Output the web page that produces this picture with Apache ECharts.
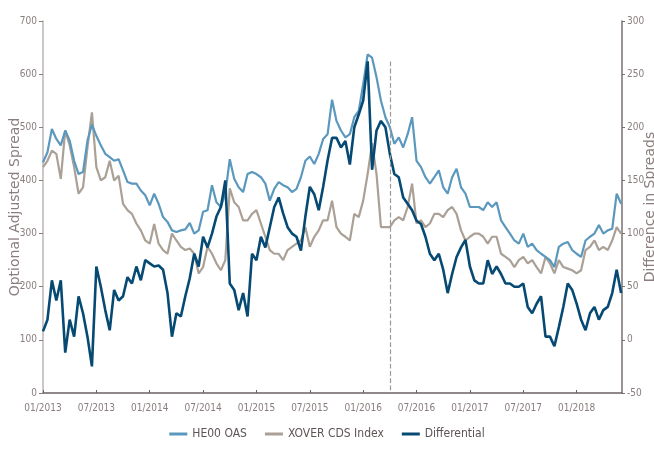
<!DOCTYPE html>
<html>
<head>
  <meta charset="UTF-8">
  <title>Spreads</title>
  <script src="https://cdn.jsdelivr.net/npm/echarts@6/dist/echarts.min.js"></script>
  <style>
    html, body { margin: 0; padding: 0; background: #fff; }
    #main { width: 654px; height: 450px; }
  </style>
</head>
<body>
<div id="main"></div>
<script>
  // x = months since 01/2013, one reading every half month
  var step = 0.5;
  var tickLabels = ['01/2013', '07/2013', '01/2014', '07/2014', '01/2015', '07/2015',
    '01/2016', '07/2016', '01/2017', '07/2017', '01/2018'];

  var he00 = [434, 453, 497, 478, 466, 494, 475, 437, 412, 416, 475, 505, 484, 466, 450, 444,
    437, 440, 419, 397, 394, 394, 381, 372, 353, 375, 356, 331, 322, 306, 303, 306,
    308, 320, 300, 306, 341, 344, 391, 359, 350, 375, 440, 403, 387, 378, 412, 416,
    412, 406, 394, 362, 384, 397, 391, 387, 378, 384, 406, 437, 445, 431, 450, 478,
    487, 552, 512, 494, 481, 487, 519, 531, 581, 637, 631, 594, 550, 519, 500, 469,
    481, 462, 487, 519, 437, 425, 406, 394, 406, 419, 387, 375, 406, 422, 387, 375,
    350, 350, 350, 344, 359, 350, 359, 325, 312, 300, 287, 281, 300, 275, 281, 269,
    262, 256, 250, 237, 275, 281, 284, 269, 262, 256, 287, 294, 300, 316, 300, 306,
    309, 375, 356];

  var xover = [425, 437, 456, 450, 403, 494, 466, 425, 375, 387, 462, 528, 425, 400, 406, 437,
    400, 409, 356, 344, 337, 319, 306, 287, 281, 318, 281, 269, 262, 300, 287, 275,
    269, 272, 262, 225, 237, 275, 262, 244, 231, 250, 385, 359, 350, 325, 325, 337,
    344, 319, 294, 269, 262, 262, 250, 269, 275, 281, 287, 312, 275, 294, 306, 325,
    325, 362, 312, 300, 294, 287, 337, 331, 362, 412, 470, 412, 312, 312, 312, 325,
    331, 325, 350, 394, 319, 325, 312, 319, 337, 337, 331, 344, 350, 337, 306, 287,
    294, 300, 300, 294, 281, 294, 294, 262, 256, 250, 237, 250, 256, 244, 250, 237,
    225, 256, 244, 225, 250, 237, 234, 231, 225, 231, 269, 275, 287, 269, 275, 269,
    287, 312, 300];

  var diff = [8, 19, 56, 37, 56, -12, 19, 3, 41, 25, 3, -25, 69, 50, 28, 9,
    47, 37, 41, 59, 53, 69, 56, 75, 72, 69, 70, 66, 44, 3, 25, 22,
    41, 58, 81, 69, 97, 87, 100, 116, 125, 150, 53, 47, 28, 44, 22, 81,
    75, 97, 87, 106, 125, 134, 119, 106, 100, 97, 84, 116, 144, 137, 122, 144,
    169, 190, 190, 181, 187, 165, 200, 212, 225, 262, 160, 197, 206, 200, 175, 156,
    153, 134, 128, 122, 112, 109, 97, 81, 75, 81, 66, 44, 62, 78, 87, 94,
    69, 56, 53, 53, 75, 62, 69, 62, 53, 53, 50, 50, 53, 31, 25, 34,
    41, 3, 3, -6, 12, 31, 53, 47, 34, 19, 9, 25, 31, 19, 28, 31,
    44, 66, 44];

  var marker = 39; // 04/2016

  function pairs(arr) {
    return arr.map(function (v, i) { return [i * step, v]; });
  }

  var narrow = "'Liberation Sans Narrow', 'DejaVu Sans Condensed', sans-serif";
  var labelColor = '#8a7d7d';

  var chart = echarts.init(document.getElementById('main'));
  chart.setOption({
    animation: false,
    grid: { left: 43, right: 32, top: 21, bottom: 57, containLabel: false, outerBoundsMode: 'none' },
    legend: {
      bottom: 5,
      left: 'center',
      icon: 'rect',
      itemWidth: 18,
      itemHeight: 3,
      itemGap: 18,
      textStyle: { color: '#5e5454', fontFamily: narrow, fontSize: 12 },
      data: ['HE00 OAS', 'XOVER CDS Index', 'Differential']
    },
    xAxis: {
      type: 'value',
      min: 0,
      max: 65.1,
      interval: 6,
      splitLine: { show: false },
      axisLine: { lineStyle: { color: '#6b6262', width: 1.5 } },
      axisTick: { inside: true, length: 3, lineStyle: { color: '#6b6262' } },
      axisLabel: {
        showMaxLabel: false,
        color: labelColor,
        fontFamily: narrow,
        fontSize: 10,
        margin: 10,
        formatter: function (v) { return tickLabels[Math.round(v / 6)] || ''; }
      }
    },
    yAxis: [{
      type: 'value',
      min: 0,
      max: 700,
      interval: 100,
      name: 'Optional Adjusted Spread',
      nameLocation: 'middle',
      nameMoveOverlap: false,
      nameGap: 21,
      nameTextStyle: { color: labelColor, fontSize: 14, fontFamily: 'DejaVu Sans' },
      splitLine: { show: false },
      axisLine: { show: true, lineStyle: { color: '#bdb5b5', width: 1.5 } },
      axisTick: { show: true, length: 4, lineStyle: { color: '#8a7d7d' } },
      axisLabel: { color: labelColor, fontFamily: narrow, fontSize: 10, margin: 6 }
    }, {
      type: 'value',
      min: -50,
      max: 300,
      interval: 50,
      position: 'right',
      name: 'Difference in Spreads',
      nameLocation: 'middle',
      nameMoveOverlap: false,
      nameRotate: 90,
      nameGap: 21,
      nameTextStyle: { color: labelColor, fontSize: 14, fontFamily: 'DejaVu Sans' },
      splitLine: { show: false },
      axisLine: { show: true, lineStyle: { color: '#7a7070', width: 1.5 } },
      axisTick: { show: true, length: 3, lineStyle: { color: '#7a7070' } },
      axisLabel: { color: labelColor, fontFamily: narrow, fontSize: 10, margin: 5 }
    }],
    series: [{
      name: 'XOVER CDS Index',
      type: 'line',
      data: pairs(xover),
      showSymbol: false,
      color: '#aaa096',
      lineStyle: { width: 2.2 },
      z: 2
    }, {
      name: 'HE00 OAS',
      type: 'line',
      data: pairs(he00),
      showSymbol: false,
      color: '#5b98bd',
      lineStyle: { width: 2.2 },
      z: 3
    }, {
      name: 'Differential',
      type: 'line',
      yAxisIndex: 1,
      data: pairs(diff),
      showSymbol: false,
      color: '#064a74',
      lineStyle: { width: 2.6 },
      z: 4,
      markLine: {
        silent: true,
        symbol: 'none',
        label: { show: false },
        lineStyle: { color: '#999', type: 'dashed', width: 1.2 },
        data: [[{ coord: [marker, 262] }, { coord: [marker, -50] }]]
      }
    }]
  });
</script>
</body>
</html>
